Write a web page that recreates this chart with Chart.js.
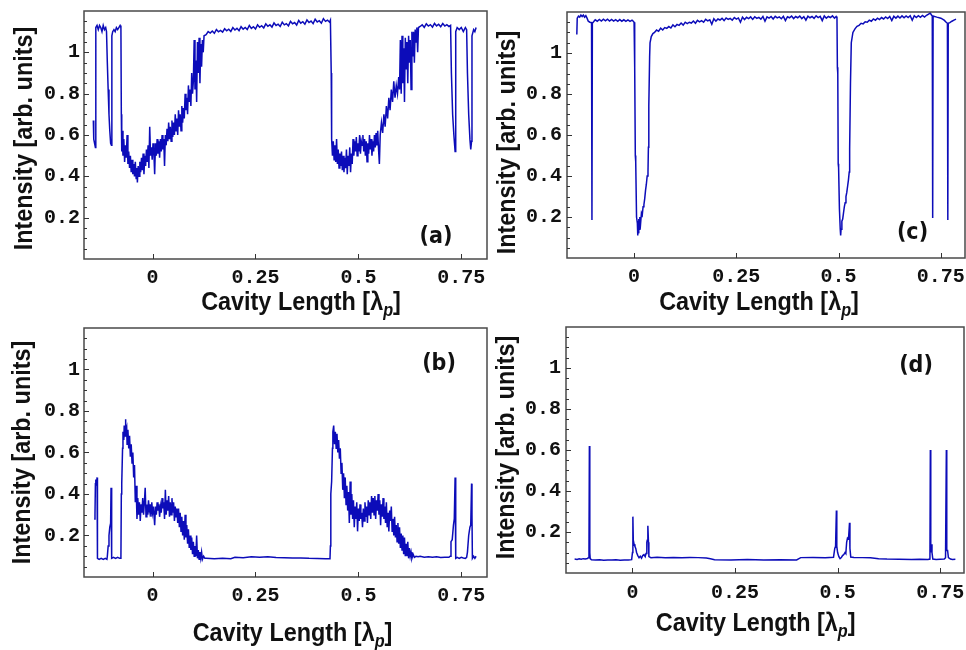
<!DOCTYPE html>
<html><head><meta charset="utf-8">
<script src="https://cdn.jsdelivr.net/npm/chart.js@4"></script>
<style>
html,body{margin:0;padding:0;background:#fff;width:966px;height:650px;overflow:hidden;position:relative}
canvas{position:absolute}
</style></head><body>
<canvas id="pa" width="490" height="320" style="left:0px;top:0px"></canvas>
<canvas id="pc" width="486" height="320" style="left:480px;top:0px"></canvas>
<canvas id="pb" width="490" height="330" style="left:0px;top:320px"></canvas>
<canvas id="pd" width="486" height="330" style="left:480px;top:320px"></canvas>
<script>
// ---- tick values / labels ----
const xTickValues = [0, 0.25, 0.5, 0.75];
const xTickLabels = ['0', '0.25', '0.5', '0.75'];
const yTickValues = [0.2, 0.4, 0.6, 0.8, 1];
const yTickLabels = ['0.2', '0.4', '0.6', '0.8', '1'];
const panelLabels = ['(a)', '(b)', '(c)', '(d)'];

// ---- panel (a) ----
const aX = [
-0.144,-0.143,-0.141,-0.139,-0.138,-0.135,-0.132,-0.129,-0.126,-0.123,
-0.120,-0.117,-0.114,-0.112,-0.110,-0.108,-0.106,-0.104,-0.102,-0.100,
-0.099,-0.097,-0.094,-0.091,-0.088,-0.085,-0.082,-0.079,-0.077,-0.076,
-0.075,
-0.074,-0.072,-0.070,-0.068,-0.066,-0.064,-0.062,-0.060,-0.058,-0.056,
-0.054,-0.052,-0.050,-0.048,-0.046,-0.044,-0.042,-0.040,-0.038,
-0.037,-0.035,-0.033,-0.031,-0.029,-0.027,-0.025,-0.023,-0.021,-0.019,
-0.017,-0.015,-0.013,-0.011,-0.009,-0.007,-0.005,-0.003,-0.001,0.001,
0.003,0.005,0.007,0.009,0.011,0.013,0.015,0.017,0.019,0.021,
0.023,0.025,0.027,0.029,0.031,0.033,0.035,0.037,0.039,0.041,
0.043,0.045,0.047,0.049,0.051,0.053,0.055,0.057,0.059,0.061,
0.063,0.065,0.067,0.069,0.071,0.073,0.075,0.077,0.079,0.081,
0.083,0.085,0.087,0.089,0.091,0.093,0.095,0.097,0.099,0.101,
0.103,0.105,0.107,0.109,0.111,0.113,0.115,0.117,0.119,0.121,
0.123,0.125,
0.130,0.135,0.140,0.145,0.150,0.155,0.160,0.165,0.170,0.175,
0.180,0.185,0.190,0.195,0.200,0.205,0.210,0.215,0.220,0.225,
0.230,0.235,0.240,0.245,0.250,0.255,0.260,0.265,0.270,0.275,
0.280,0.285,0.290,0.295,0.300,0.305,0.310,0.315,0.320,0.325,
0.330,0.335,0.340,0.345,0.350,0.355,0.360,0.365,0.370,0.375,
0.380,0.385,0.390,0.395,0.400,0.405,0.410,0.415,0.420,0.425,
0.430,0.432,0.434,0.435,
0.437,0.439,0.441,0.443,0.445,0.447,0.449,0.451,0.453,0.455,
0.457,0.459,0.461,0.463,0.465,0.467,0.469,0.471,0.473,0.475,
0.477,0.479,0.481,0.483,0.485,0.487,0.489,0.491,0.493,0.495,
0.497,0.499,0.501,0.503,0.505,0.507,0.509,0.511,0.513,0.515,
0.517,0.519,0.521,0.523,0.525,0.527,0.529,0.531,0.533,0.535,
0.537,0.539,0.541,0.543,0.545,0.547,0.549,
0.551,0.553,0.556,0.559,0.562,0.565,0.568,0.571,0.574,0.577,
0.580,0.583,0.586,0.589,0.592,0.595,0.598,0.600,0.602,0.604,
0.606,0.608,0.610,0.612,0.614,0.616,0.618,0.620,0.622,0.624,
0.626,0.628,0.630,0.632,0.634,0.636,0.638,0.640,0.642,0.644,
0.646,
0.650,0.655,0.660,0.665,0.670,0.675,0.680,0.685,0.690,0.695,
0.700,0.705,0.710,0.715,0.720,0.724,0.726,0.729,0.732,0.735,
0.736,0.737,0.740,0.745,0.750,0.755,0.760,0.763,0.765,0.768,
0.771,0.773,0.775,0.776,0.780,0.783,0.786
];
const aY = [
0.67,0.58,0.56,0.54,1.12,1.13,1.11,1.13,1.12,1.10,
1.13,1.11,1.12,1.10,0.95,0.82,0.70,0.62,0.56,0.55,
1.08,1.10,1.11,1.10,1.12,1.11,1.12,1.13,1.12,0.70,
0.52,
0.62,0.50,0.58,0.47,0.55,0.49,0.60,0.46,0.52,0.44,
0.50,0.42,0.48,0.41,0.46,0.40,0.47,0.39,0.44,
0.37,0.45,0.40,0.47,0.42,0.49,0.43,0.51,0.41,0.50,
0.45,0.53,0.47,0.55,0.44,0.64,0.50,0.54,0.48,0.56,
0.52,0.41,0.56,0.50,0.58,0.51,0.57,0.49,0.58,0.52,
0.60,0.53,0.58,0.45,0.60,0.55,0.63,0.57,0.66,0.58,
0.64,0.57,0.67,0.59,0.66,0.60,0.70,0.62,0.68,0.60,
0.72,0.64,0.70,0.62,0.74,0.66,0.73,0.68,0.80,0.72,
0.78,0.70,0.84,0.76,0.82,0.74,0.90,0.80,0.86,1.06,
0.82,0.96,0.76,1.05,0.90,1.07,0.85,1.04,0.93,1.06,
1.00,1.08,
1.085,1.100,1.093,1.103,1.092,1.110,1.099,1.106,1.098,1.114,
1.104,1.112,1.101,1.120,1.108,1.116,1.105,1.124,1.112,1.120,
1.110,1.130,1.116,1.124,1.113,1.133,1.121,1.129,1.118,1.138,
1.126,1.133,1.122,1.142,1.130,1.136,1.125,1.146,1.133,1.139,
1.128,1.150,1.138,1.144,1.132,1.154,1.141,1.148,1.136,1.157,
1.144,1.151,1.139,1.160,1.147,1.153,1.141,1.163,1.150,1.156,
1.146,1.155,0.90,0.58,
0.50,0.57,0.48,0.55,0.47,0.58,0.46,0.53,0.44,0.51,
0.45,0.52,0.43,0.50,0.42,0.49,0.44,0.53,0.41,0.50,
0.45,0.54,0.42,0.51,0.46,0.58,0.50,0.57,0.52,0.59,
0.50,0.56,0.52,0.60,0.51,0.57,0.55,0.60,0.52,0.58,
0.50,0.57,0.47,0.56,0.51,0.60,0.53,0.58,0.50,0.57,
0.52,0.60,0.54,0.61,0.55,0.62,0.53,
0.46,0.60,0.66,0.61,0.70,0.64,0.74,0.68,0.78,0.72,
0.82,0.76,0.86,0.78,0.84,0.80,0.88,0.82,1.06,0.80,
1.08,0.85,1.02,0.76,1.07,0.92,1.05,0.85,1.08,0.95,
1.06,0.82,1.10,0.98,1.10,0.95,1.11,1.05,1.12,1.00,
1.12,
1.125,1.133,1.121,1.138,1.127,1.134,1.122,1.140,1.128,1.136,
1.124,1.139,1.127,1.134,1.125,1.130,0.90,0.70,0.60,0.52,
0.56,1.10,1.12,1.11,1.12,1.10,1.12,1.11,0.90,0.70,
0.58,0.53,0.57,1.08,1.11,1.10,1.12
];

// ---- panel (b) ----
const bX = [
-0.142,-0.140,-0.139,-0.138,-0.136,-0.135,-0.134,-0.130,-0.125,-0.120,
-0.115,-0.111,-0.110,-0.108,-0.106,-0.104,-0.102,-0.101,-0.100,-0.099,
-0.095,-0.090,-0.085,-0.080,-0.077,-0.076,-0.075,-0.073,-0.072,-0.070,
-0.069,-0.067,-0.066,-0.065,-0.063,-0.062,-0.060,-0.058,-0.056,-0.054,
-0.052,-0.050,-0.048,-0.046,-0.044,-0.042,-0.040,-0.038,-0.036,-0.034,
-0.032,-0.030,-0.028,-0.026,-0.024,-0.022,-0.020,-0.018,-0.016,-0.014,
-0.012,-0.010,-0.008,-0.006,-0.004,-0.002,0.000,0.002,0.004,0.005,
0.007,0.009,0.011,0.013,0.015,0.017,0.019,0.021,0.023,0.025,
0.027,0.029,0.031,0.033,0.035,0.037,0.039,0.041,0.043,0.045,
0.047,0.049,0.051,0.053,0.055,0.057,0.059,0.061,0.063,0.065,
0.067,0.069,0.071,0.073,0.075,0.077,0.079,0.081,0.083,0.085,
0.087,0.089,0.091,0.093,0.095,0.097,0.099,0.101,0.103,0.105,
0.107,0.109,0.111,0.113,0.115,0.117,0.119,0.121,0.124,0.127,
0.130,
0.15,0.17,0.19,0.20,0.22,0.24,0.26,0.28,0.30,0.32,
0.34,0.36,0.38,0.40,0.42,0.431,0.432,0.433,0.435,0.437,
0.438,0.440,0.442,0.444,0.446,0.448,0.450,0.452,0.454,0.456,
0.458,0.460,0.462,0.464,0.466,0.468,0.470,0.472,0.474,0.476,
0.478,0.480,0.482,0.484,0.486,0.488,0.490,0.492,0.494,0.496,
0.498,0.500,0.502,0.504,0.506,0.508,0.510,0.512,0.514,0.516,
0.518,0.520,0.522,0.524,0.526,0.528,0.530,0.532,0.534,0.536,
0.538,0.540,0.542,0.544,0.546,0.548,0.550,0.552,0.554,0.556,
0.558,0.560,0.562,0.564,0.566,0.568,0.570,0.572,0.574,0.576,
0.578,0.580,0.582,0.584,0.586,0.588,0.590,0.592,0.594,0.596,
0.598,0.600,0.602,0.604,0.606,0.608,0.610,0.612,0.614,0.616,
0.618,0.620,0.622,0.624,0.626,0.628,0.630,0.633,0.636,0.640,
0.645,0.65,0.66,0.67,0.68,0.69,0.70,0.71,0.72,0.723,
0.725,0.728,0.731,0.733,0.735,0.736,0.737,0.740,0.745,0.750,
0.755,0.760,0.763,0.765,0.768,0.771,0.773,0.775,0.776,0.777,
0.780,0.783,0.786
];
const bY = [
0.28,0.30,0.45,0.47,0.44,0.48,0.09,0.085,0.09,0.085,
0.09,0.085,0.10,0.15,0.20,0.24,0.26,0.43,0.43,0.09,
0.095,0.09,0.095,0.09,0.09,0.40,0.45,0.62,0.70,0.66,
0.73,0.68,0.76,0.70,0.72,0.64,0.71,0.62,0.68,0.58,
0.64,0.55,0.60,0.48,0.54,0.36,0.44,0.28,0.38,0.30,
0.36,0.27,0.35,0.31,0.38,0.30,0.36,0.43,0.29,0.35,
0.30,0.37,0.32,0.35,0.29,0.36,0.31,0.34,0.28,0.25,
0.34,0.30,0.36,0.32,0.35,0.29,0.34,0.31,0.38,0.33,
0.36,0.28,0.42,0.30,0.37,0.32,0.39,0.29,0.36,0.30,
0.38,0.31,0.36,0.27,0.34,0.29,0.33,0.26,0.33,0.24,
0.31,0.22,0.29,0.20,0.27,0.18,0.30,0.19,0.25,0.16,
0.23,0.14,0.20,0.13,0.19,0.11,0.17,0.10,0.15,0.10,
0.20,0.09,0.13,0.085,0.12,0.09,0.12,0.085,0.10,0.09,
0.09,
0.088,0.09,0.088,0.095,0.093,0.097,0.095,0.098,0.094,0.093,
0.091,0.092,0.090,0.089,0.088,0.088,0.15,0.40,0.46,0.62,
0.70,0.73,0.64,0.70,0.62,0.69,0.60,0.66,0.57,0.62,
0.50,0.55,0.42,0.50,0.38,0.48,0.35,0.44,0.32,0.41,
0.26,0.46,0.30,0.40,0.28,0.37,0.24,0.34,0.28,0.36,
0.22,0.33,0.27,0.35,0.28,0.31,0.24,0.33,0.27,0.36,
0.29,0.34,0.26,0.37,0.30,0.36,0.28,0.39,0.31,0.38,
0.30,0.39,0.28,0.37,0.32,0.40,0.30,0.37,0.25,0.35,
0.29,0.38,0.28,0.34,0.26,0.36,0.24,0.31,0.22,0.32,
0.27,0.34,0.22,0.28,0.20,0.29,0.19,0.25,0.17,0.26,
0.16,0.24,0.14,0.21,0.13,0.20,0.11,0.19,0.10,0.16,
0.10,0.17,0.09,0.14,0.10,0.12,0.09,0.11,0.095,0.10,
0.098,0.10,0.095,0.098,0.095,0.097,0.094,0.095,0.095,0.10,
0.17,0.18,0.25,0.28,0.48,0.30,0.09,0.095,0.09,0.095,
0.092,0.09,0.095,0.12,0.20,0.24,0.25,0.45,0.30,0.09,
0.10,0.09,0.10
];

// ---- panel (c) ----
const cX = [
-0.140,-0.139,-0.136,-0.133,-0.130,-0.127,-0.124,-0.121,-0.118,-0.115,-0.112,-0.108,-0.104,-0.103,-0.102,
-0.099,-0.095,-0.090,-0.085,-0.080,-0.075,-0.070,-0.065,-0.060,-0.055,-0.050,-0.045,-0.040,-0.035,-0.030,-0.025,-0.020,-0.015,-0.010,-0.005,-0.002,0.000,
0.001,0.002,0.003,0.004,0.006,0.008,0.009,0.010,0.011,0.012,0.013,0.014,0.016,0.018,0.020,0.022,0.024,0.026,0.028,0.030,0.032,0.034,0.035,0.036,0.038,0.039,0.042,0.046,
0.050,0.055,0.060,0.065,0.070,0.075,0.080,0.085,0.090,0.095,
0.100,0.105,0.110,0.115,0.120,0.125,0.130,0.135,0.140,0.145,
0.150,0.155,0.160,0.165,0.170,0.175,0.180,0.185,0.190,0.195,
0.200,0.205,0.210,0.215,0.220,0.225,0.230,0.235,0.240,0.245,
0.250,0.255,0.260,0.265,0.270,0.275,0.280,0.285,0.290,0.295,
0.300,0.305,0.310,0.315,0.320,0.325,0.330,0.335,0.340,0.345,
0.350,0.355,0.360,0.365,0.370,0.375,0.380,0.385,0.390,0.395,
0.400,0.405,0.410,0.415,0.420,0.425,0.430,0.435,0.440,0.445,
0.450,0.455,0.460,0.465,0.470,0.475,0.480,0.485,0.490,0.494,
0.496,0.497,0.498,0.499,0.500,0.502,0.504,0.505,0.506,0.508,0.510,0.512,0.514,0.516,0.518,0.520,0.522,0.524,0.526,0.527,0.529,0.531,0.535,
0.540,0.545,0.550,0.555,0.560,0.565,0.570,0.575,0.580,0.585,
0.590,0.595,0.600,0.605,0.610,0.615,0.620,0.625,0.630,0.635,
0.640,0.645,0.650,0.655,0.660,0.665,0.670,0.675,0.680,0.685,
0.690,0.695,0.700,0.705,0.710,0.715,0.720,
0.724,0.727,0.729,0.730,0.731,0.740,0.750,0.758,0.763,0.766,0.767,0.768,0.772,0.777,0.782,0.787
];
const cY = [
1.09,1.17,1.18,1.175,1.185,1.178,1.185,1.175,1.182,1.17,1.155,1.15,1.148,0.185,1.145,
1.152,1.162,1.155,1.164,1.156,1.165,1.157,1.165,1.156,1.164,1.156,1.163,1.155,1.163,1.155,1.162,1.154,1.161,1.154,1.160,1.155,1.15,
0.97,0.93,0.50,0.47,0.20,0.17,0.11,0.18,0.12,0.19,0.14,0.20,0.17,0.22,0.21,0.25,0.26,0.29,0.33,0.36,0.40,0.42,0.54,0.74,0.98,1.05,1.08,1.095,
1.100,1.112,1.106,1.121,1.112,1.124,1.120,1.129,1.122,1.137,
1.128,1.139,1.135,1.146,1.136,1.150,1.143,1.150,1.146,1.156,
1.145,1.159,1.152,1.158,1.150,1.164,1.157,1.162,1.140,1.167,
1.155,1.166,1.161,1.169,1.158,1.171,1.164,1.169,1.160,1.173,
1.165,1.171,1.150,1.175,1.163,1.174,1.168,1.176,1.164,1.177,
1.169,1.174,1.165,1.178,1.155,1.176,1.170,1.178,1.166,1.179,
1.171,1.176,1.167,1.179,1.158,1.177,1.172,1.180,1.168,1.178,
1.172,1.180,1.168,1.177,1.160,1.180,1.172,1.178,1.169,1.181,
1.173,1.179,1.158,1.181,1.170,1.178,1.173,1.181,1.170,1.178,
1.17,0.93,0.90,0.46,0.44,0.24,0.14,0.11,0.14,0.18,0.19,0.22,0.25,0.27,0.30,0.32,0.35,0.38,0.42,0.53,0.85,1.05,1.10,
1.118,1.130,1.135,1.145,1.142,1.152,1.150,1.160,1.155,1.166,
1.160,1.170,1.163,1.173,1.166,1.176,1.168,1.178,1.158,1.179,
1.170,1.180,1.171,1.181,1.172,1.181,1.173,1.182,1.160,1.182,
1.173,1.182,1.174,1.183,1.175,1.184,1.190,
1.196,1.185,1.18,0.195,1.18,1.175,1.17,1.16,1.15,1.145,0.185,1.145,1.148,1.155,1.16,1.165
];

// ---- panel (d) ----
const dX = [
-0.141,-0.135,-0.130,-0.125,-0.120,-0.115,-0.110,-0.107,-0.106,-0.105,
-0.104,-0.103,-0.100,-0.090,-0.080,-0.070,-0.060,-0.050,-0.040,-0.030,
-0.020,-0.010,-0.002,0.000,0.001,0.002,0.004,0.006,0.008,0.010,
0.013,0.016,0.019,0.022,0.025,0.028,0.031,0.033,0.035,0.036,
0.0375,0.039,0.040,0.045,0.060,0.080,0.100,0.120,0.140,0.160,
0.180,0.190,0.200,0.240,0.280,0.320,0.360,0.400,0.410,0.440,
0.470,0.490,0.493,0.495,0.497,0.498,0.500,0.503,0.506,0.509,
0.512,0.515,0.518,0.520,0.522,0.524,0.526,0.527,0.529,0.530,
0.532,0.540,0.560,0.580,0.600,0.620,0.650,0.680,0.700,0.720,
0.725,0.726,0.727,0.728,0.730,0.732,0.740,0.750,0.760,0.763,
0.765,0.766,0.768,0.770,0.775,0.780,0.787
];
const dY = [
0.068,0.066,0.069,0.067,0.070,0.068,0.071,0.075,0.105,0.62,
0.10,0.07,0.064,0.063,0.065,0.062,0.064,0.063,0.065,0.062,
0.064,0.063,0.065,0.10,0.275,0.16,0.14,0.13,0.12,0.10,
0.085,0.075,0.082,0.072,0.085,0.09,0.08,0.095,0.15,0.16,
0.23,0.15,0.08,0.075,0.077,0.075,0.076,0.074,0.076,0.075,
0.073,0.07,0.065,0.064,0.066,0.064,0.065,0.064,0.075,0.076,
0.075,0.077,0.12,0.13,0.305,0.13,0.10,0.08,0.07,0.075,
0.085,0.09,0.10,0.095,0.15,0.17,0.165,0.18,0.245,0.12,
0.078,0.076,0.075,0.074,0.070,0.068,0.067,0.066,0.067,0.066,
0.068,0.60,0.10,0.14,0.10,0.068,0.066,0.067,0.068,0.075,
0.60,0.11,0.11,0.075,0.068,0.066,0.067
];

// ---- drawing ----
const LINE_COLOR = 'rgb(12,12,185)';
const TEXT_FONT = 'Liberation Sans';
const TICK_FONT = 'Liberation Mono';

const framePlugin = {
  id: 'frame',
  afterDraw(chart, args, o) {
    const {ctx, chartArea: ca, scales: {x, y}} = chart;
    ctx.save();
    ctx.strokeStyle = '#4a4a4a';
    ctx.lineWidth = 1.5;
    ctx.strokeRect(ca.left, ca.top, ca.right - ca.left, ca.bottom - ca.top);
    ctx.lineWidth = 1;
    ctx.strokeStyle = '#333';
    for (let k = 1; k < 24; k++) {
      const py = Math.round(y.getPixelForValue(k * 0.05)) + 0.5;
      const len = (k % 4 === 0) ? 5 : 3;
      ctx.beginPath(); ctx.moveTo(ca.left, py); ctx.lineTo(ca.left + len, py); ctx.stroke();
    }
    xTickValues.forEach(v => {
      const px = Math.round(x.getPixelForValue(v)) + 0.5;
      ctx.beginPath(); ctx.moveTo(px, ca.bottom); ctx.lineTo(px, ca.bottom - 5); ctx.stroke();
    });
    ctx.fillStyle = '#111';
    const S = 0.9;
    // y title
    ctx.save();
    ctx.translate(o.yt[0], o.yt[1]);
    ctx.rotate(-Math.PI / 2);
    ctx.scale(S, 1);
    ctx.font = 'bold 26px ' + TEXT_FONT;
    ctx.textAlign = 'center';
    ctx.textBaseline = 'alphabetic';
    ctx.fillText('Intensity [arb. units]', 0, 0);
    ctx.restore();
    // x title with subscript
    ctx.save();
    ctx.translate(o.xt[0], o.xt[1]);
    ctx.scale(S, 1);
    ctx.textAlign = 'left';
    ctx.textBaseline = 'alphabetic';
    const mainF = 'bold 26px ' + TEXT_FONT, subF = 'bold italic 18px ' + TEXT_FONT;
    const t1 = 'Cavity Length [\u03BB', t2 = 'p', t3 = ']';
    ctx.font = mainF; const w1 = ctx.measureText(t1).width, w3 = ctx.measureText(t3).width;
    ctx.font = subF; const w2 = ctx.measureText(t2).width;
    let sx = -(w1 + w2 + w3) / 2;
    ctx.font = mainF; ctx.fillText(t1, sx, 0); sx += w1;
    ctx.font = subF; ctx.fillText(t2, sx, 6); sx += w2;
    ctx.font = mainF; ctx.fillText(t3, sx, 0);
    ctx.restore();
    // panel label
    ctx.save();
    ctx.translate(o.lb[0], o.lb[1]);
    ctx.scale(S, 1);
    ctx.font = 'bold 23px DejaVu Sans';
    ctx.textAlign = 'center';
    ctx.fillText(o.label, 0, 0);
    ctx.restore();
    ctx.restore();
  }
};

function makePanel(id, xs, ys, c) {
  const pts = xs.map((v, i) => ({x: v, y: ys[i]}));
  new Chart(document.getElementById(id), {
    type: 'line',
    data: {datasets: [{data: pts, borderColor: LINE_COLOR, borderWidth: 1.5, pointRadius: 0, tension: 0, fill: false}]},
    options: {
      responsive: false, animation: false, events: [],
      layout: {padding: {top: c.T, right: c.R, left: 0, bottom: 0}},
      plugins: {legend: {display: false}, tooltip: {enabled: false},
        frame: {xt: c.xt, yt: c.yt, lb: c.lb, label: c.label}},
      scales: {
        x: {type: 'linear', min: c.xmin, max: c.xmax,
          grid: {display: false, drawTicks: false, tickLength: 0}, border: {display: false},
          afterBuildTicks: s => { s.ticks = xTickValues.map(v => ({value: v})); },
          ticks: {callback: (v, i) => xTickLabels[i], autoSkip: false, maxRotation: 0,
            font: {family: TICK_FONT, weight: 'bold', size: 20}, color: '#111', padding: c.xpad},
          afterFit: s => { s.height = c.xH; s.paddingLeft = 0; s.paddingRight = 0; }},
        y: {type: 'linear', min: 0, max: 1.2,
          grid: {display: false, drawTicks: false, tickLength: 0}, border: {display: false},
          afterBuildTicks: s => { s.ticks = yTickValues.map(v => ({value: v})); },
          ticks: {callback: (v, i) => yTickLabels[i], autoSkip: false,
            font: {family: TICK_FONT, weight: 'bold', size: 20}, color: '#111', padding: c.ypad},
          afterFit: s => { s.width = c.yW; s.paddingTop = 0; s.paddingBottom = 0; }}
      }
    },
    plugins: [framePlugin]
  });
}

makePanel('pa', aX, aY, {T: 11, R: 3, xH: 61, yW: 84, xmin: -0.1667, xmax: 0.8125, xpad: 7, ypad: 4,
  xt: [301, 310], yt: [32, 138.5], lb: [436, 243], label: panelLabels[0]});
makePanel('pb', bX, bY, {T: 8, R: 3, xH: 73, yW: 84, xmin: -0.1667, xmax: 0.8125, xpad: 7, ypad: 4,
  xt: [292.5, 321], yt: [30.4, 132.5], lb: [439, 50], label: panelLabels[1]});
makePanel('pc', cX, cY, {T: 12, R: 1, xH: 62, yW: 87, xmin: -0.164, xmax: 0.809, xpad: 7, ypad: 5,
  xt: [279, 310], yt: [35.4, 142.5], lb: [432.5, 239], label: panelLabels[2]});
makePanel('pd', dX, dY, {T: 7, R: 2, xH: 77, yW: 86, xmin: -0.162, xmax: 0.808, xpad: 8, ypad: 5,
  xt: [275.7, 311], yt: [33.7, 127.5], lb: [436, 52], label: panelLabels[3]});
</script>
</body></html>
